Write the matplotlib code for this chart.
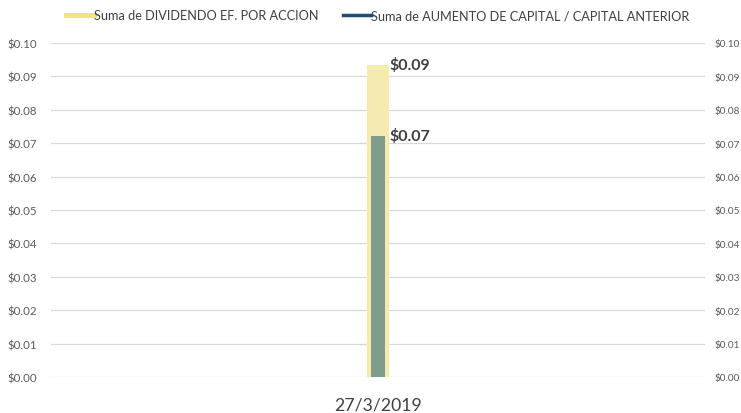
import matplotlib.pyplot as plt
from matplotlib.lines import Line2D

# Datos
categorias = ['27/3/2019']
dividendo = [0.0934]
aumento_capital = [0.0722]
ticks_y = [0.00, 0.01, 0.02, 0.03, 0.04, 0.05, 0.06, 0.07, 0.08, 0.09, 0.10]

plt.rcParams['font.family'] = ['Lato', 'DejaVu Sans']

fig = plt.figure(figsize=(7.41, 4.14), dpi=100)
ax = fig.add_axes([0.0688, 0.087, 0.8826, 0.807])
ax2 = ax.twinx()

x = range(len(categorias))
ax.bar(x, dividendo, width=0.034, color='#F5EBAE', zorder=2)
ax2.bar(x, aumento_capital, width=0.021, color='#7F9D8C', zorder=3)

etiquetas_y = [f'${v:.2f}' for v in ticks_y]
for a in (ax, ax2):
    a.set_ylim(0, 0.10)
    a.set_yticks(ticks_y)
    for s in a.spines.values():
        s.set_visible(False)
ax.set_yticklabels(etiquetas_y, fontsize=8.3, color='#595959')
ax2.set_yticklabels(etiquetas_y, fontsize=7.2, color='#595959')
ax.tick_params(axis='y', length=0, pad=10)
ax2.tick_params(axis='y', length=0, pad=7)

ax.set_xlim(-0.5, 0.5)
ax.set_xticks(list(x))
ax.set_xticklabels(categorias, fontsize=12.7, color='#404040')
ax.tick_params(axis='x', length=0, pad=14)
ax.yaxis.grid(True, color='#D9D9D9', linewidth=0.9, zorder=0)
ax.set_axisbelow(True)

# Etiquetas de datos
for i, v in zip(x, dividendo):
    ax.text(i + 0.018, v, f'${v:.2f}', fontsize=11.5, fontweight='bold',
            color='#404040', va='center', ha='left', zorder=5)
for i, v in zip(x, aumento_capital):
    ax2.text(i + 0.018, v, f'${v:.2f}', fontsize=11.5, fontweight='bold',
             color='#404040', va='center', ha='left', zorder=5)

handles = [Line2D([], [], color='#F2E47E', linewidth=3.5),
           Line2D([], [], color='#1F4E79', linewidth=2.5)]
labels = ['Suma de DIVIDENDO EF. POR ACCION',
          'Suma de AUMENTO DE CAPITAL / CAPITAL ANTERIOR']
fig.legend(handles, labels, loc='center', bbox_to_anchor=(0.51, 0.961), ncol=2,
           frameon=False, fontsize=9.2, handlelength=2.2, handletextpad=0.0,
           columnspacing=1.9, labelcolor='#404040')

fig.savefig('out.png', dpi=100)
